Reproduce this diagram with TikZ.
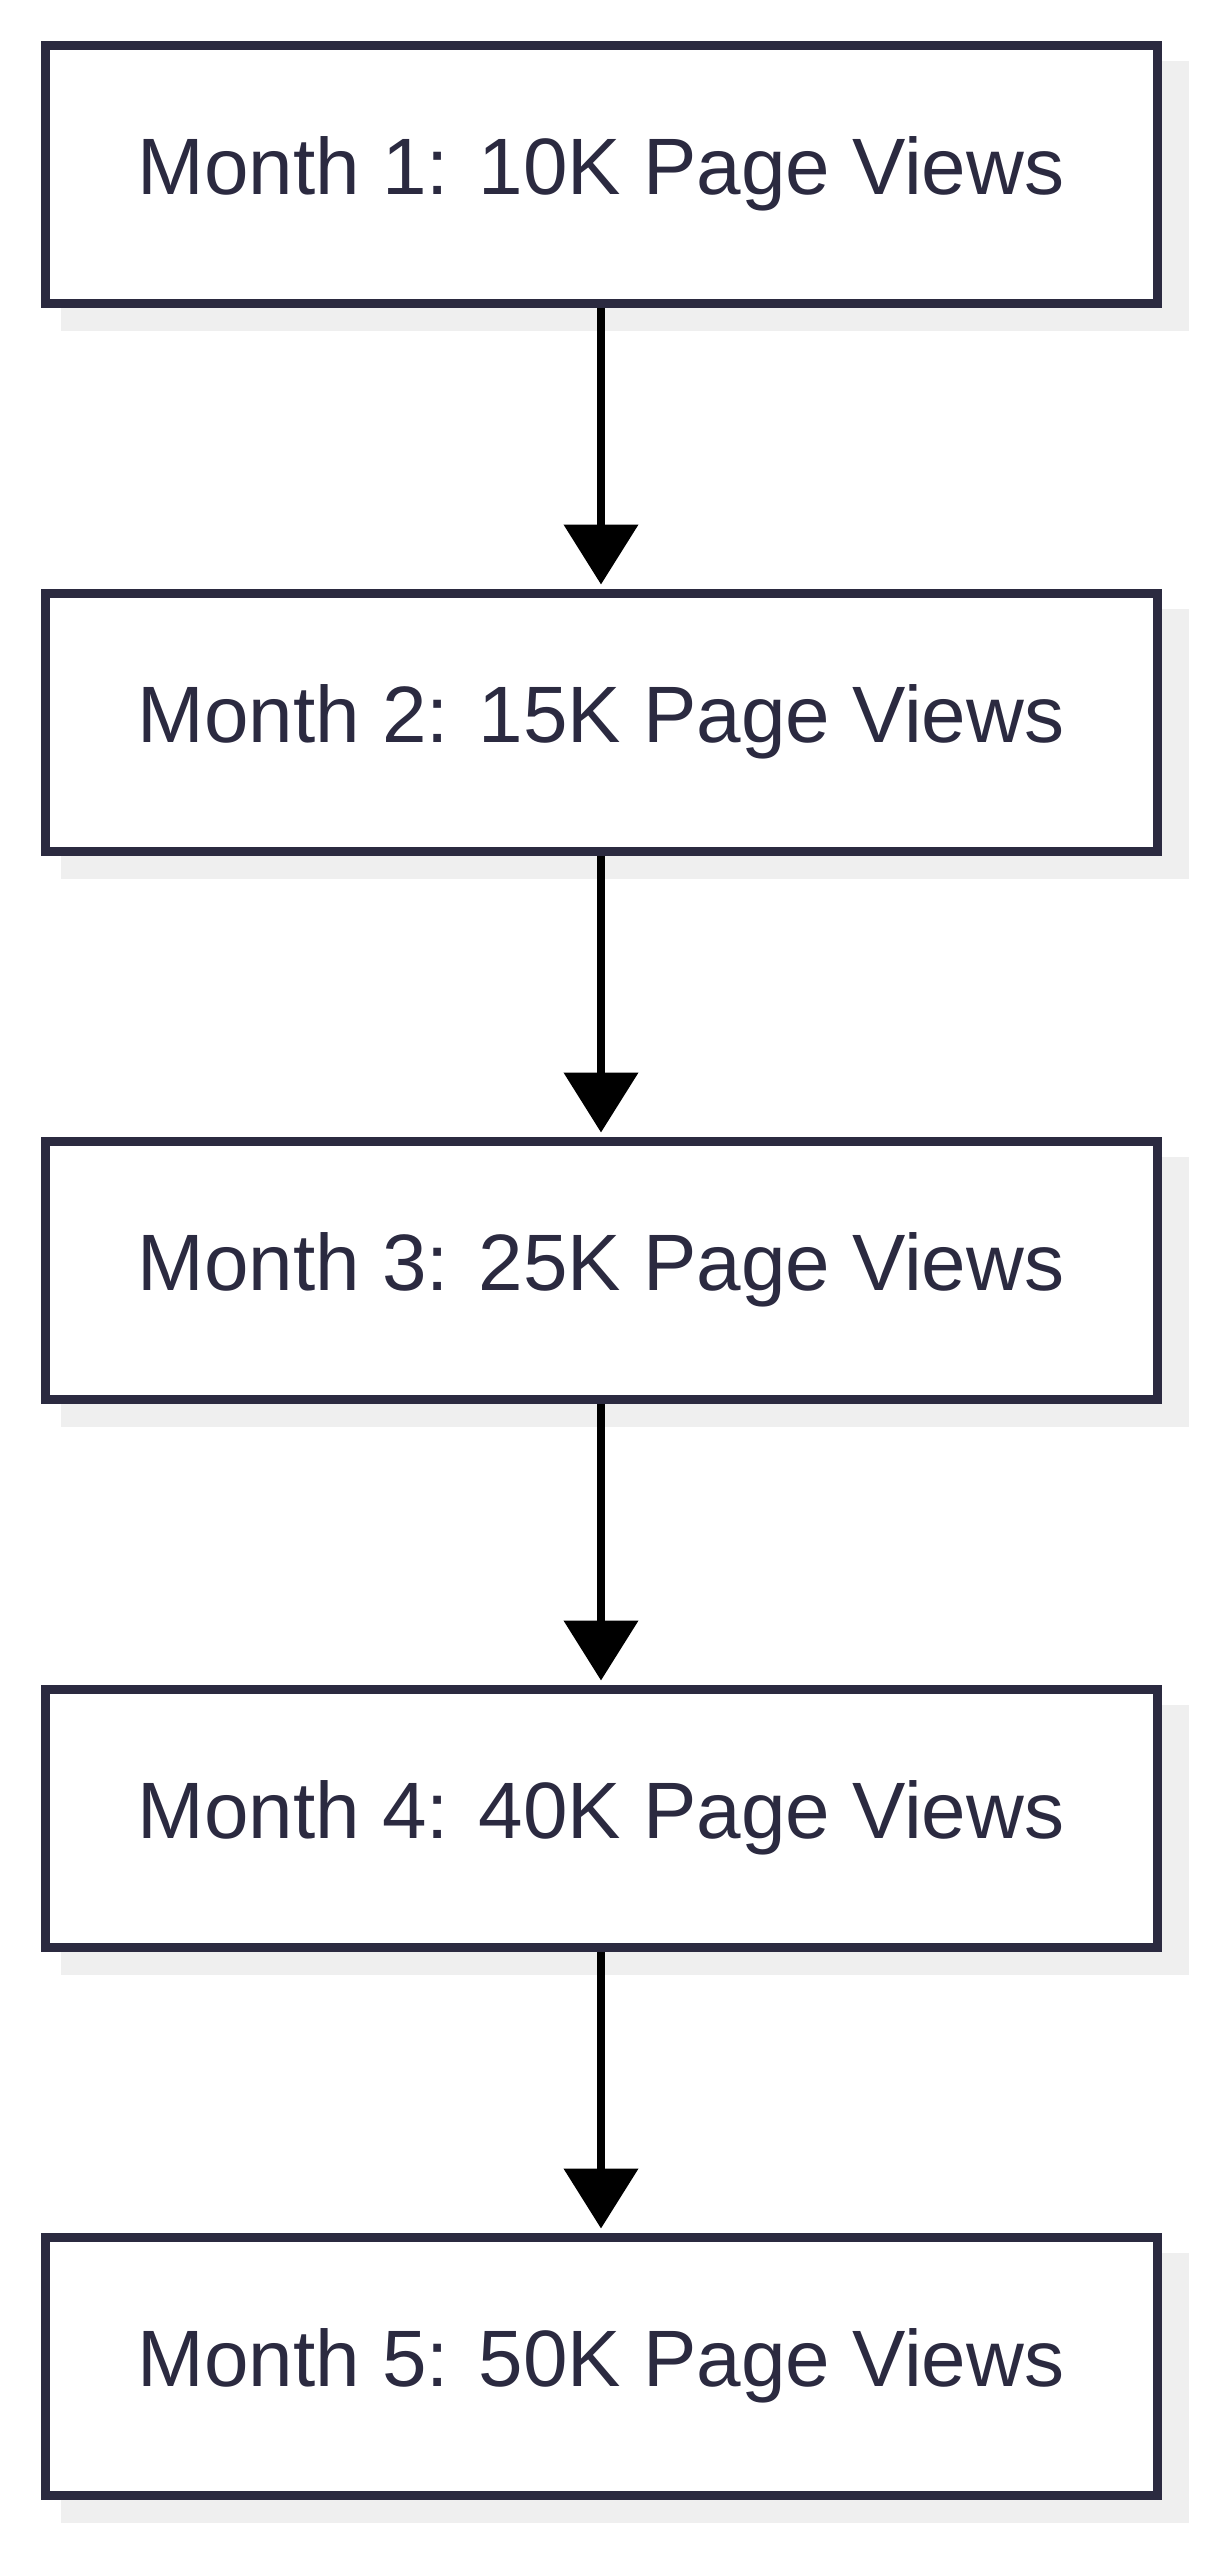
\documentclass[tikz,border=0pt]{standalone}
\usepackage{fontspec}
\setmainfont{Liberation Sans}
\usetikzlibrary{arrows.meta}
\definecolor{bd}{HTML}{2B2A40}
\definecolor{sh}{HTML}{EFEFEF}
\begin{document}
\begin{tikzpicture}[x=1pt,y=-1pt,
  box/.style={draw=bd,line width=9pt,fill=white,minimum width=1112pt,minimum height=258pt,inner sep=0pt,text=bd,font=\fontsize{80}{88}\selectfont},
  arr/.style={line width=8pt,-{Triangle[length=60pt,width=73pt]}}]
\useasboundingbox (0,0) rectangle (1213,2560);
\foreach \i/\t in {1/10K,2/15K,3/25K,4/40K,5/50K}{
  \pgfmathsetmacro{\yy}{45+(\i-1)*548+129}
  \fill[sh] (61,\yy-113) rectangle (1189,\yy+157);
  \node[box] (m\i) at (601,\yy) {Month \i: \t\ Page Views};
}
\foreach \a/\b in {m1/m2,m2/m3,m3/m4,m4/m5}
  \draw[arr] (\a.south) -- ([yshift=4pt]\b.north);
\end{tikzpicture}
\end{document}
